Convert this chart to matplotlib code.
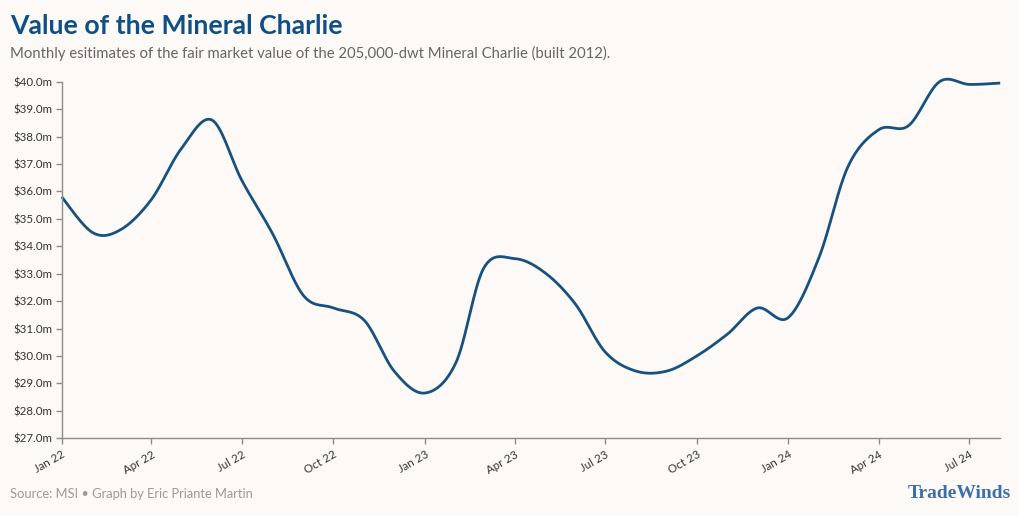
"""Value of the Mineral Charlie - monthly fair market value line chart."""

from datetime import date

import numpy as np
import matplotlib
matplotlib.use("Agg")
import matplotlib.pyplot as plt
import matplotlib.dates as mdates
from matplotlib import rcParams

rcParams["font.family"] = ["Lato", "DejaVu Sans"]

BG = "#fdf9f7"
LINE_COLOR = "#17527f"
TITLE_COLOR = "#0e4f86"

# monthly estimates, $m, Jan 2022 .. Aug 2024
values_2022 = [35.8, 34.5, 34.6, 35.7, 37.55, 38.6, 36.4, 34.45, 32.2, 31.75, 31.3, 29.45]
values_2023 = [28.65, 29.75, 33.2, 33.55, 33.05, 31.9, 30.15, 29.45, 29.45, 30.0, 30.8, 31.75]
values_2024 = [31.4, 33.6, 36.9, 38.25, 38.4, 40.0, 39.9, 39.95]

values = values_2022 + values_2023 + values_2024
months = [date(2022 + i // 12, i % 12 + 1, 1) for i in range(len(values))]

y_ticks = np.arange(27, 40.5, 1.0)
tick_months = [date(2022, 1, 1), date(2022, 4, 1), date(2022, 7, 1), date(2022, 10, 1),
               date(2023, 1, 1), date(2023, 4, 1), date(2023, 7, 1), date(2023, 10, 1),
               date(2024, 1, 1), date(2024, 4, 1), date(2024, 7, 1)]


def catmull_rom(x, y, n=30):
    """Uniform Catmull-Rom spline through the points (x, y)."""
    x = np.asarray(x, float)
    y = np.asarray(y, float)
    px = np.concatenate([[x[0]], x, [x[-1]]])
    py = np.concatenate([[y[0]], y, [y[-1]]])
    xs, ys = [], []
    t = np.linspace(0, 1, n, endpoint=False)
    h00 = 2 * t**3 - 3 * t**2 + 1
    h10 = t**3 - 2 * t**2 + t
    h01 = -2 * t**3 + 3 * t**2
    h11 = t**3 - t**2
    for i in range(1, len(px) - 2):
        mx0 = (px[i + 1] - px[i - 1]) / 2
        mx1 = (px[i + 2] - px[i]) / 2
        my0 = (py[i + 1] - py[i - 1]) / 2
        my1 = (py[i + 2] - py[i]) / 2
        xs.append(h00 * px[i] + h10 * mx0 + h01 * px[i + 1] + h11 * mx1)
        ys.append(h00 * py[i] + h10 * my0 + h01 * py[i + 1] + h11 * my1)
    xs.append([x[-1]])
    ys.append([y[-1]])
    return np.concatenate(xs), np.concatenate(ys)


fig = plt.figure(figsize=(10.2, 5.16), dpi=100, facecolor=BG)
ax = fig.add_axes([0.0605, 0.1506, 0.9201, 0.6911], facecolor=BG)

xnum = mdates.date2num(months)
sx, sy = catmull_rom(xnum, values)
ax.plot(sx, sy, color=LINE_COLOR, linewidth=2.0, clip_on=False, solid_capstyle="butt")

ax.set_xlim(mdates.date2num(date(2022, 1, 1)), mdates.date2num(date(2024, 8, 1)))
ax.set_ylim(27, 40)
ax.set_yticks(y_ticks)
ax.set_yticklabels([f"${v:.1f}m" for v in y_ticks])
ax.set_xticks(mdates.date2num(tick_months))
ax.set_xticklabels([d.strftime("%b %y") for d in tick_months], rotation=30,
                   ha="right", rotation_mode="anchor")

for side in ("top", "right"):
    ax.spines[side].set_visible(False)
for side in ("left", "bottom"):
    ax.spines[side].set_color("#8c8c8c")
    ax.spines[side].set_linewidth(1.0)
ax.tick_params(axis="both", colors="#8c8c8c", labelcolor="#333333",
               labelsize=8.3, length=4.5, width=1.0)
ax.tick_params(axis="y", pad=2)
ax.tick_params(axis="x", pad=3)

fig.text(0.0098, 0.935, "Value of the Mineral Charlie", fontsize=19.2, fontweight="bold",
         color=TITLE_COLOR, va="baseline")
fig.text(0.0098, 0.888, "Monthly esitimates of the fair market value of the 205,000-dwt "
         "Mineral Charlie (built 2012).", fontsize=10.7, color="#666666", va="baseline")
fig.text(0.0098, 0.035, "Source: MSI \u2022 Graph by Eric Priante Martin", fontsize=9.3,
         color="#9a9a9a", va="baseline")
fig.text(0.991, 0.035, "TradeWinds", fontsize=14, fontweight="bold", color="#3c6ea8",
         family="Liberation Serif", ha="right", va="baseline")

fig.savefig("out.png", dpi=100, facecolor=BG)
